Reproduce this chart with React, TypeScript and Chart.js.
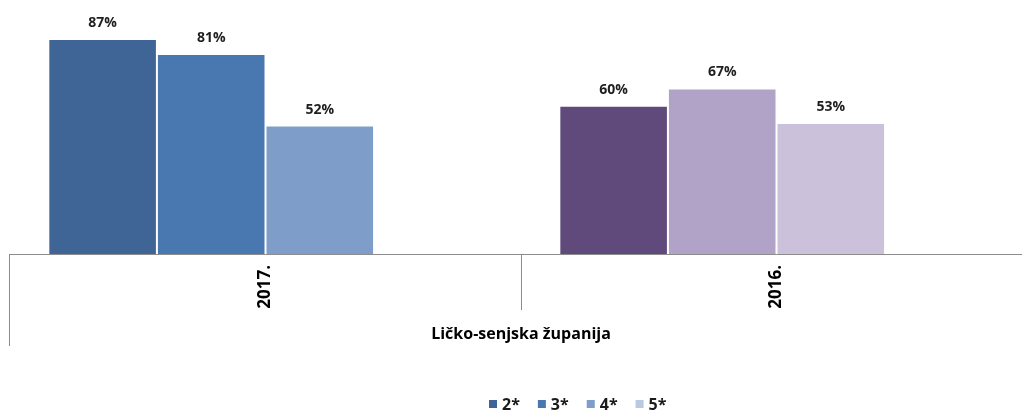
import React, { useEffect, useRef } from "react";
import { Chart, registerables } from "chart.js";

Chart.register(...registerables);

// ---- data ----
const categories = ["2017.", "2016."];
const seriesLabels = ["2*", "3*", "4*", "5*"];
const values2 = [87, 60];
const values3 = [81, 67];
const values4 = [52, 53];
const values5: (number | null)[] = [null, null];
const colors2 = ["#3e6596", "#604a7b"];
const colors3 = ["#4977b0", "#b1a2c7"];
const colors4 = ["#7e9dc9", "#ccc1da"];
const colors5 = ["#b9c8e3", "#b9c8e3"];
const legendColors = ["#3e6596", "#4977b0", "#7e9dc9", "#b9c8e3"];
const axisTitle = "Ličko-senjska županija";
const yMin = 0;
const yMax = 100;

// ---- styles ----
const FONT = '"Open Sans", "DejaVu Sans", sans-serif';
const LINE_COLOR = "#8c8c8c";
const LEFT_LINE_DROP = 92;
const SEP_LINE_DROP = 56;
const LEGEND_X = 489;
const LEGEND_Y = 404;

const customPlugin = {
  id: "customDraw",
  afterDatasetsDraw(chart: any) {
    const ctx = chart.ctx;
    ctx.save();
    ctx.font = `bold 14px ${FONT}`;
    ctx.fillStyle = "#1e1e1e";
    ctx.textAlign = "center";
    ctx.textBaseline = "middle";
    chart.data.datasets.forEach((ds: any, di: number) => {
      const meta = chart.getDatasetMeta(di);
      meta.data.forEach((el: any, i: number) => {
        const v = ds.data[i];
        if (v == null) return;
        ctx.fillText(v + "%", el.x, el.y - 16);
      });
    });
    ctx.restore();
  },
  afterDraw(chart: any) {
    const { ctx, chartArea } = chart;
    const xs = chart.scales.x;
    ctx.save();
    ctx.strokeStyle = LINE_COLOR;
    ctx.lineWidth = 1;
    ctx.beginPath();
    const left = Math.round(chartArea.left) - 0.5;
    ctx.moveTo(left, chartArea.bottom);
    ctx.lineTo(left, chartArea.bottom + LEFT_LINE_DROP);
    for (let i = 1; i < categories.length; i++) {
      const px =
        Math.round((xs.getPixelForValue(i - 1) + xs.getPixelForValue(i)) / 2) + 0.5;
      ctx.moveTo(px, chartArea.bottom);
      ctx.lineTo(px, chartArea.bottom + SEP_LINE_DROP);
    }
    ctx.stroke();

    // legend
    ctx.font = `bold 16px ${FONT}`;
    ctx.textAlign = "left";
    ctx.textBaseline = "middle";
    let lx = LEGEND_X;
    chart.data.datasets.forEach((ds: any, i: number) => {
      ctx.fillStyle = legendColors[i];
      ctx.fillRect(lx, LEGEND_Y - 4, 8, 8);
      ctx.fillStyle = "#1a1a1a";
      ctx.fillText(ds.label, lx + 13, LEGEND_Y + 1);
      lx += 13 + ctx.measureText(ds.label).width + 18;
    });
    ctx.restore();
  },
};

export default function App() {
  const ref = useRef<HTMLCanvasElement | null>(null);

  useEffect(() => {
    if (!ref.current) return;
    const border = "rgba(255,255,255,0.55)";
    const chart = new Chart(ref.current, {
      type: "bar",
      data: {
        labels: categories,
        datasets: [
          { label: seriesLabels[0], data: values2, backgroundColor: colors2, borderColor: border, borderWidth: 1 },
          { label: seriesLabels[1], data: values3, backgroundColor: colors3, borderColor: border, borderWidth: 1 },
          { label: seriesLabels[2], data: values4, backgroundColor: colors4, borderColor: border, borderWidth: 1 },
          { label: seriesLabels[3], data: values5, backgroundColor: colors5, borderColor: border, borderWidth: 1 },
        ],
      },
      options: {
        responsive: false,
        animation: false,
        layout: { padding: { left: 10, right: 0, top: 7, bottom: 0 } },
        datasets: { bar: { categoryPercentage: 0.85, barPercentage: 1 } },
        plugins: { legend: { display: false }, tooltip: { enabled: false } },
        scales: {
          x: {
            grid: { display: false, drawTicks: false },
            border: { display: true, color: LINE_COLOR, width: 1 },
            ticks: {
              minRotation: 90,
              maxRotation: 90,
              autoSkip: false,
              padding: 11,
              color: "#000",
              font: { family: FONT, size: 17, weight: "bold" },
            },
            title: {
              display: true,
              text: axisTitle,
              color: "#000",
              font: { family: FONT, size: 16, weight: "bold" },
              padding: { top: 0, bottom: 68 },
            },
            afterFit: (scale: any) => {
              scale.height = 158;
            },
          },
          y: { display: false, min: yMin, max: yMax },
        },
      } as any,
      plugins: [customPlugin],
    });
    return () => chart.destroy();
  }, []);

  return (
    <div
      style={{
        position: "fixed",
        left: 0,
        top: 0,
        width: 1022,
        height: 412,
        overflow: "hidden",
        background: "#fff",
      }}
    >
      <canvas ref={ref} width={1032} height={412} />
    </div>
  );
}
